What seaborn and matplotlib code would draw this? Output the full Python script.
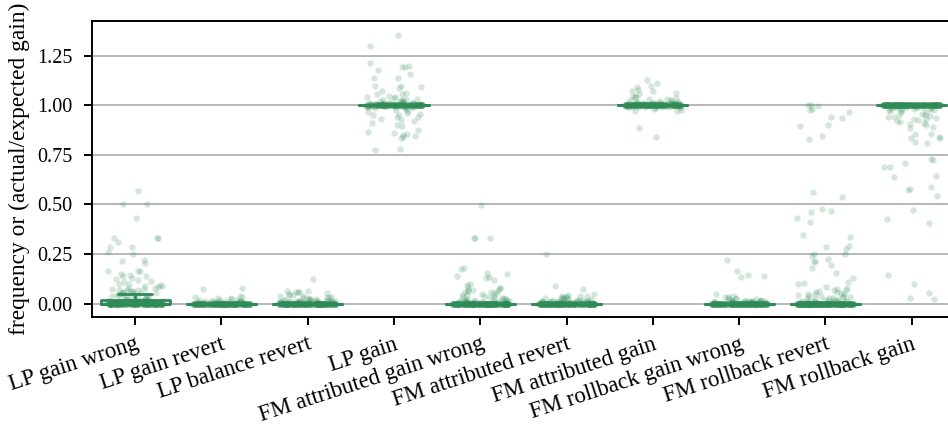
import numpy as np
import pandas as pd
import matplotlib
matplotlib.use("Agg")
import matplotlib.pyplot as plt
import seaborn as sns

categories = ["LP gain wrong", "LP gain revert", "LP balance revert", "LP gain",
              "FM attributed gain wrong", "FM attributed revert", "FM attributed gain",
              "FM rollback gain wrong", "FM rollback revert", "FM rollback gain"]

# individually visible points
pts_lp_gain_wrong = [0.57, 0.50, 0.50, 0.43, 0.33, 0.33, 0.33, 0.31, 0.285, 0.285, 0.26, 0.25,
                     0.22, 0.215, 0.205, 0.165, 0.165, 0.165, 0.15, 0.145, 0.14, 0.14, 0.13,
                     0.125, 0.12, 0.115, 0.11, 0.10, 0.10, 0.095, 0.09, 0.09, 0.085, 0.08, 0.08,
                     0.075, 0.075, 0.07, 0.07, 0.07, 0.065, 0.065, 0.06, 0.06, 0.06, 0.055,
                     0.055, 0.05, 0.05, 0.05, 0.045, 0.045, 0.04, 0.04, 0.04, 0.035, 0.035,
                     0.03, 0.03, 0.03, 0.025, 0.025, 0.025, 0.02, 0.02]
pts_lp_gain_revert = [0.077, 0.074, 0.04, 0.035, 0.032, 0.03, 0.028, 0.025, 0.02, 0.02, 0.02]
pts_lp_balance_revert = [0.122, 0.065, 0.062, 0.06, 0.058, 0.058, 0.055, 0.05, 0.045, 0.045,
                         0.04, 0.04, 0.035, 0.035, 0.03, 0.03, 0.03, 0.025, 0.025, 0.025,
                         0.02, 0.02, 0.02, 0.02]
pts_lp_gain = [1.356, 1.299, 1.211, 1.2, 1.195, 1.194, 1.176, 1.159, 1.14, 1.135, 1.095,
               1.095, 1.09, 1.087, 1.07, 1.06, 1.058, 1.055, 1.045, 1.044, 1.04, 1.035,
               1.03, 1.03, 1.025, 1.025, 1.02, 1.02, 1.02, 1.015,
               0.985, 0.98, 0.975, 0.97, 0.965, 0.96, 0.955, 0.952, 0.95, 0.943, 0.94,
               0.93, 0.927, 0.92, 0.91, 0.9, 0.893, 0.876, 0.863, 0.86, 0.856, 0.851,
               0.843, 0.84, 0.834, 0.779, 0.775]
pts_fm_attr_gain_wrong = [0.499, 0.332, 0.332, 0.332, 0.178, 0.173, 0.153, 0.149, 0.139,
                          0.132, 0.13, 0.119, 0.097, 0.093, 0.085, 0.078, 0.077, 0.07, 0.068,
                          0.068, 0.065, 0.06, 0.06, 0.055, 0.051, 0.05, 0.045, 0.045, 0.04,
                          0.04, 0.035, 0.035, 0.03, 0.03, 0.03, 0.025, 0.025, 0.02, 0.02, 0.02]
pts_fm_attr_revert = [0.25, 0.088, 0.075, 0.05, 0.045, 0.04, 0.04, 0.04, 0.035, 0.035, 0.03,
                      0.03, 0.03, 0.03, 0.025, 0.025, 0.02, 0.02, 0.02]
pts_fm_attr_gain = [1.125, 1.11, 1.095, 1.092, 1.075, 1.07, 1.07, 1.062, 1.055, 1.048, 1.044,
                    1.04, 1.036, 1.03, 1.03, 1.025, 1.025, 1.02, 1.02, 1.015, 1.015,
                    0.985, 0.98, 0.975, 0.97, 0.969, 0.885, 0.84]
pts_fm_rb_gain_wrong = [0.22, 0.166, 0.144, 0.138, 0.132, 0.048, 0.04, 0.035, 0.031, 0.03,
                        0.03, 0.025, 0.025, 0.02, 0.02]
pts_fm_rb_revert = [0.999, 0.999, 0.998, 0.981, 0.977, 0.964, 0.943, 0.935, 0.902, 0.896,
                    0.846, 0.832, 0.563, 0.536, 0.477, 0.467, 0.462, 0.433, 0.41, 0.346,
                    0.334, 0.292, 0.287, 0.274, 0.248, 0.248, 0.24, 0.223, 0.216, 0.21,
                    0.194, 0.181, 0.153, 0.127, 0.11, 0.102, 0.1, 0.085, 0.08, 0.075, 0.07,
                    0.07, 0.065, 0.06, 0.06, 0.055, 0.05, 0.05, 0.05, 0.045, 0.04, 0.04,
                    0.04, 0.035, 0.035, 0.03, 0.03, 0.03, 0.025, 0.025, 0.02, 0.02, 0.02]
pts_fm_rb_gain = [0.969, 0.965, 0.96, 0.955, 0.952, 0.95, 0.945, 0.943, 0.94, 0.935, 0.93,
                  0.93, 0.925, 0.92, 0.915, 0.91, 0.905, 0.9, 0.89, 0.885, 0.856, 0.855,
                  0.84, 0.837, 0.835, 0.816, 0.812, 0.73, 0.725, 0.711, 0.69, 0.688, 0.645,
                  0.64, 0.588, 0.577, 0.575, 0.54, 0.472, 0.427, 0.408, 0.142, 0.098,
                  0.055, 0.026, 0.024]

# dense bands hidden in the solid strip: values and how many points sit at each
band_low_vals = [0.0, 0.005, 0.01, 0.015]
band_lp_gain_wrong = [140, 16, 18, 16]
band_lp_gain_revert = [190, 8, 8, 6]
band_lp_balance_revert = [190, 10, 10, 10]
band_fm_attr_gain_wrong = [230, 8, 8, 8]
band_fm_attr_revert = [200, 10, 10, 10]
band_fm_rb_gain_wrong = [200, 10, 10, 10]
band_fm_rb_revert = [260, 6, 6, 6]
band_one_vals = [0.975, 0.98, 0.985, 0.99, 0.995, 1.0, 1.005, 1.01]
band_lp_gain = [0, 0, 0, 8, 8, 120, 8, 8]
band_fm_attr_gain = [0, 0, 0, 8, 8, 160, 12, 12]
band_fm_rb_gain = [3, 3, 4, 4, 4, 220, 0, 0]

ytick_vals = [0, 0.25, 0.5, 0.75, 1.0, 1.25]
ytick_labels = ["0.00", "0.25", "0.50", "0.75", "1.00", "1.25"]

series = [
    (pts_lp_gain_wrong, band_low_vals, band_lp_gain_wrong),
    (pts_lp_gain_revert, band_low_vals, band_lp_gain_revert),
    (pts_lp_balance_revert, band_low_vals, band_lp_balance_revert),
    (pts_lp_gain, band_one_vals, band_lp_gain),
    (pts_fm_attr_gain_wrong, band_low_vals, band_fm_attr_gain_wrong),
    (pts_fm_attr_revert, band_low_vals, band_fm_attr_revert),
    (pts_fm_attr_gain, band_one_vals, band_fm_attr_gain),
    (pts_fm_rb_gain_wrong, band_low_vals, band_fm_rb_gain_wrong),
    (pts_fm_rb_revert, band_low_vals, band_fm_rb_revert),
    (pts_fm_rb_gain, band_one_vals, band_fm_rb_gain),
]

rows = []
for cat, (pts, bvals, bcounts) in zip(categories, series):
    vals = list(pts) + list(np.repeat(bvals, bcounts))
    rows.extend((cat, v) for v in vals)
df = pd.DataFrame(rows, columns=["metric", "value"])

sns.set_style("ticks", {"axes.edgecolor": "black", "axes.spines.right": False,
                        "xtick.color": "black", "ytick.color": "black",
                        "text.color": "black", "axes.labelcolor": "black"})
plt.rcParams["font.family"] = ["Liberation Serif", "DejaVu Serif"]
plt.rcParams["font.size"] = 16.5
plt.rcParams["axes.linewidth"] = 1.4
plt.rcParams["xtick.major.width"] = 1.4
plt.rcParams["ytick.major.width"] = 1.4
plt.rcParams["xtick.major.size"] = 6
plt.rcParams["ytick.major.size"] = 6

green = "#2e8b57"
np.random.seed(3)

fig = plt.figure(figsize=(9.48, 4.37), dpi=100)
ax = fig.add_axes([0.097, 1 - 317 / 437, 0.9103, 296 / 437])

sns.boxplot(data=df, x="metric", y="value", order=categories, color=green, fill=False,
            showfliers=False, width=0.8, linewidth=2, ax=ax)
sns.stripplot(data=df, x="metric", y="value", order=categories, color=green, alpha=0.2,
              size=4.6, jitter=0.33, linewidth=0, ax=ax)

ax.set_xlim(-0.5, 9.5)
ax.set_ylim(-0.068, 1.425)
ax.set_yticks(ytick_vals)
ax.set_yticklabels(ytick_labels)
ax.yaxis.grid(True, color="#b2b2b2", linewidth=1.3, zorder=0)
ax.tick_params(axis="y", pad=8, labelsize=14.5)
ax.tick_params(axis="x", pad=6, labelsize=16.5)
ax.set_xlabel("")
ax.set_ylabel("frequency or (actual/expected gain)", fontsize=16.8)
ax.yaxis.set_label_coords(-0.072, 0.5)
ax.set_xticks(range(len(categories)))
ax.set_xticklabels(categories, rotation=18, ha="right", rotation_mode="anchor")
ax.spines["right"].set_visible(False)

fig.savefig("out.png", dpi=100)
